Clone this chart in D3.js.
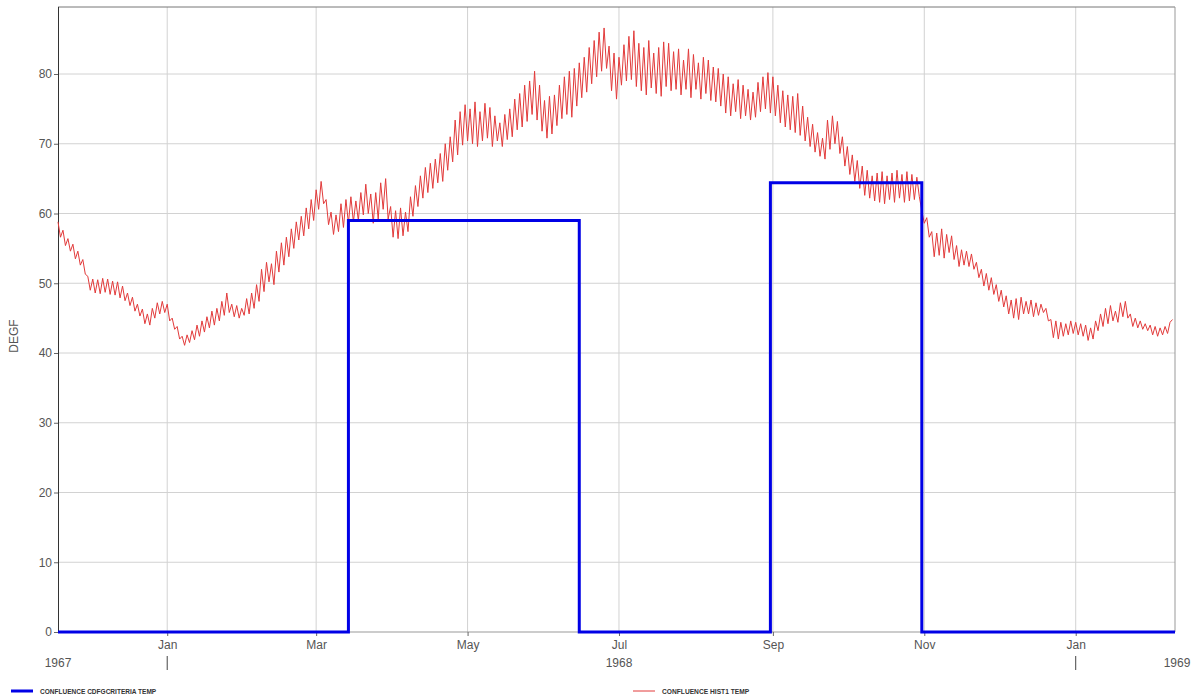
<!DOCTYPE html>
<html>
<head>
<meta charset="utf-8">
<script src="https://cdn.jsdelivr.net/npm/d3@7"></script>
<style>
  body { margin: 0; background: #fff; }
  svg { display: block; font-family: "Liberation Sans", Arial, sans-serif; }
</style>
</head>
<body>
<svg width="1196" height="698"></svg>
<script>
// criteria step series (value holds until next date)
const criteriaDates = ["1967-11-18", "1968-03-14", "1968-06-15", "1968-08-31", "1968-10-31", "1969-02-10"]
const criteriaValues = [0, 59, 0, 64.4, 0, 0]

// daily historic temperature, starting 1967-11-18
const histStart = "1967-11-18"
const histValues = [
  58.8, 56.6, 57.6, 55.4, 56.4, 54.6, 55.6, 53.5, 54.6, 52.6,
  53.4, 51.3, 51.0, 49.0, 50.6, 48.6, 50.5, 48.5, 50.7, 48.7,
  50.6, 48.4, 50.3, 48.3, 50.2, 47.9, 49.6, 47.5, 48.6, 46.8,
  48.0, 46.0, 47.0, 45.3, 46.3, 44.2, 45.6, 44.0, 46.4, 45.0,
  47.2, 45.6, 47.4, 45.8, 47.0, 44.6, 45.0, 43.4, 43.8, 42.0,
  42.4, 41.1, 42.6, 41.5, 43.2, 41.9, 44.0, 42.4, 44.6, 43.0,
  45.2, 43.6, 46.0, 44.0, 46.4, 44.6, 47.4, 45.4, 48.6, 45.8,
  47.0, 45.2, 46.8, 45.0, 46.4, 45.4, 47.8, 45.6, 48.6, 46.4,
  49.8, 47.4, 52.0, 48.8, 53.0, 50.2, 52.8, 49.8, 54.6, 51.6,
  55.8, 52.6, 56.6, 53.8, 57.8, 55.0, 58.8, 56.2, 59.6, 56.8,
  60.8, 57.8, 62.0, 59.0, 63.4, 60.6, 64.6, 61.4, 62.0, 58.4,
  60.2, 57.0, 59.8, 57.4, 61.4, 58.0, 62.0, 58.6, 62.4, 58.8,
  61.8, 59.0, 63.0, 59.8, 64.2, 60.0, 62.8, 58.6, 63.0, 59.2,
  64.4, 60.6, 65.0, 59.2, 61.0, 56.6, 60.4, 56.4, 60.8, 56.8,
  60.2, 57.4, 62.4, 59.6, 64.0, 61.0, 65.4, 62.2, 66.6, 63.0,
  67.2, 63.6, 67.8, 64.4, 68.6, 64.6, 70.0, 66.2, 71.0, 67.4,
  73.4, 68.4, 74.6, 69.8, 75.6, 70.4, 75.0, 70.0, 76.0, 69.6,
  74.6, 70.4, 75.8, 70.8, 75.2, 69.6, 74.0, 70.4, 73.0, 69.6,
  74.2, 70.6, 75.0, 71.0, 76.4, 72.0, 77.2, 72.4, 78.4, 73.2,
  79.0, 74.2, 80.4, 73.4, 78.4, 71.8, 76.2, 70.8, 76.8, 71.4,
  77.0, 72.6, 78.4, 73.6, 79.6, 74.2, 80.4, 73.8, 80.8, 75.4,
  81.6, 76.6, 82.4, 77.4, 83.8, 78.6, 84.8, 79.6, 86.0, 80.4,
  86.6, 80.8, 84.0, 77.6, 83.0, 76.4, 82.4, 78.4, 84.2, 79.0,
  85.4, 79.2, 86.2, 78.2, 84.4, 77.6, 83.8, 77.0, 84.8, 78.0,
  83.0, 77.2, 83.8, 76.8, 84.6, 78.2, 84.4, 77.6, 83.2, 77.8,
  83.6, 77.0, 82.0, 77.8, 83.6, 76.6, 82.8, 77.8, 81.6, 76.4,
  82.4, 77.2, 82.0, 76.2, 81.0, 76.0, 80.8, 75.4, 80.0, 74.4,
  79.6, 74.0, 78.6, 74.6, 79.2, 73.6, 78.4, 74.0, 77.8, 73.4,
  77.4, 73.8, 78.8, 74.6, 79.6, 75.0, 80.2, 74.4, 79.6, 74.0,
  78.4, 73.0, 77.6, 72.4, 77.0, 72.0, 76.8, 71.6, 77.2, 71.2,
  75.4, 70.4, 73.8, 69.6, 72.8, 68.8, 71.6, 68.2, 70.8, 67.8,
  73.4, 69.2, 74.0, 70.0, 73.2, 68.6, 71.0, 66.8, 69.6, 65.6,
  68.4, 64.6, 67.6, 63.6, 66.8, 62.6, 66.2, 62.2, 65.4, 61.8,
  65.8, 61.6, 66.0, 61.4, 65.4, 62.0, 65.8, 61.6, 66.2, 62.2,
  65.6, 61.6, 66.0, 61.8, 65.6, 62.0, 65.2, 62.4, 60.4, 58.6,
  59.4, 56.6, 57.4, 53.8, 57.2, 54.0, 57.8, 53.6, 57.0, 54.4,
  56.8, 53.4, 55.4, 52.4, 54.8, 52.6, 54.6, 52.4, 54.2, 52.0,
  53.0, 50.8, 52.0, 49.6, 51.4, 49.0, 50.8, 48.4, 49.8, 47.4,
  49.0, 46.6, 48.2, 45.6, 47.6, 45.0, 47.8, 44.8, 48.0, 45.6,
  47.4, 45.6, 47.6, 45.2, 47.2, 45.4, 47.0, 45.8, 46.4, 44.6,
  44.8, 42.2, 44.6, 42.0, 44.4, 42.4, 44.2, 42.6, 44.6, 42.8,
  44.4, 42.6, 44.2, 42.4, 44.0, 41.8, 43.6, 42.0, 44.6, 43.2,
  45.6, 43.8, 46.4, 44.2, 46.8, 44.6, 46.0, 44.4, 47.2, 45.2,
  47.4, 45.0, 45.6, 43.8, 45.0, 43.6, 44.6, 43.4, 44.2, 43.2,
  44.0, 42.6, 43.8, 42.4, 43.6, 42.6, 43.8, 42.8, 44.4, 44.8
]

const yTicks = [0, 10, 20, 30, 40, 50, 60, 70, 80]
const yearLabels = ["1967", "1968", "1969"]
const legendLabels = ["CONFLUENCE CDFGCRITERIA TEMP", "CONFLUENCE HIST1 TEMP"]

const parse = d3.utcParse("%Y-%m-%d")
const svg = d3.select("svg")

const plotLeft = 58, plotRight = 1175, plotTop = 7, plotBottom = 632

const x = d3.scaleUtc()
    .domain([parse("1967-11-18"), parse("1969-02-10")])
    .range([plotLeft, plotRight])
const y = d3.scaleLinear()
    .domain([0, 80])
    .range([plotBottom, 74])

const monthTicks = x.ticks(d3.utcMonth.every(2))

// gridlines
svg.append("g").selectAll("line")
    .data(yTicks.slice(1))
    .enter().append("line")
    .attr("x1", plotLeft).attr("x2", plotRight)
    .attr("y1", d => y(d)).attr("y2", d => y(d))
    .attr("stroke", "#d2d2d2")

svg.append("g").selectAll("line")
    .data(monthTicks)
    .enter().append("line")
    .attr("x1", d => x(d)).attr("x2", d => x(d))
    .attr("y1", plotTop).attr("y2", plotBottom)
    .attr("stroke", "#d2d2d2")

// frame
svg.append("line").attr("x1", plotLeft).attr("x2", plotRight).attr("y1", plotTop).attr("y2", plotTop).attr("stroke", "#777")
svg.append("line").attr("x1", plotRight).attr("x2", plotRight).attr("y1", plotTop).attr("y2", plotBottom).attr("stroke", "#999")
svg.append("line").attr("x1", plotLeft).attr("x2", plotRight).attr("y1", plotBottom).attr("y2", plotBottom).attr("stroke", "#999")

// y axis
const yAxis = svg.append("g")
    .attr("transform", `translate(${plotLeft},0)`)
    .call(d3.axisLeft(y).tickValues(yTicks).tickSize(4).tickPadding(2))
yAxis.select(".domain").attr("stroke", "#333").attr("d", `M0.5,${plotTop}V${plotBottom}`)
yAxis.selectAll(".tick line").attr("stroke", "#666")
yAxis.selectAll("text").attr("fill", "#555").attr("font-size", 12)
    .attr("font-family", "'Liberation Sans', Arial, sans-serif")

svg.append("text")
    .attr("transform", "translate(18,336) rotate(-90)")
    .attr("text-anchor", "middle")
    .attr("fill", "#555").attr("font-size", 12)
    .text("DEGF")

// x axis: months
const xAxis = svg.append("g")
    .attr("transform", `translate(0,${plotBottom})`)
    .call(d3.axisBottom(x).tickValues(monthTicks).tickFormat(d3.utcFormat("%b")).tickSize(4).tickPadding(4))
xAxis.select(".domain").remove()
xAxis.selectAll(".tick line").attr("stroke", "#666")
xAxis.selectAll("text").attr("fill", "#555").attr("font-size", 12)
    .attr("font-family", "'Liberation Sans', Arial, sans-serif")

// year row
const yearPos = [x.domain()[0], parse("1968-07-01"), x.domain()[1]]
svg.append("g").selectAll("text")
    .data(yearLabels)
    .enter().append("text")
    .attr("x", (d, i) => x(yearPos[i]) + (i === 2 ? 2 : 0))
    .attr("y", 667)
    .attr("text-anchor", "middle")
    .attr("fill", "#555").attr("font-size", 12)
    .text(d => d)

svg.append("g").selectAll("line")
    .data(monthTicks.filter(d => d.getUTCMonth() === 0))
    .enter().append("line")
    .attr("x1", d => x(d)).attr("x2", d => x(d))
    .attr("y1", 656).attr("y2", 670)
    .attr("stroke", "#444")

// series
const histData = histValues.map((v, i) => ({ date: d3.utcDay.offset(parse(histStart), i), value: v }))
const critData = criteriaDates.map((d, i) => ({ date: parse(d), value: criteriaValues[i] }))

svg.append("path")
    .datum(histData)
    .attr("fill", "none")
    .attr("stroke", "#e23a3a")
    .attr("stroke-width", 1)
    .attr("d", d3.line().x(d => x(d.date)).y(d => y(d.value)))

svg.append("path")
    .datum(critData)
    .attr("fill", "none")
    .attr("stroke", "#0000e6")
    .attr("stroke-width", 3)
    .attr("d", d3.line().curve(d3.curveStepAfter).x(d => x(d.date)).y(d => y(d.value)))

// legend
const legend = [
  { label: legendLabels[0], color: "#0000e6", width: 3, x: 11, tx: 40 },
  { label: legendLabels[1], color: "#e23a3a", width: 1, x: 633, tx: 662 }
]
const lg = svg.append("g").selectAll("g").data(legend).enter().append("g")
lg.append("line")
    .attr("x1", d => d.x).attr("x2", d => d.x + 22)
    .attr("y1", 691).attr("y2", 691)
    .attr("stroke", d => d.color).attr("stroke-width", d => d.width)
lg.append("text")
    .attr("x", d => d.tx).attr("y", 694)
    .attr("font-size", 7).attr("font-weight", "bold")
    .attr("fill", "#333")
    .attr("textLength", d => d.label.length * 4.15)
    .attr("lengthAdjust", "spacingAndGlyphs")
    .text(d => d.label)
</script>
</body>
</html>
